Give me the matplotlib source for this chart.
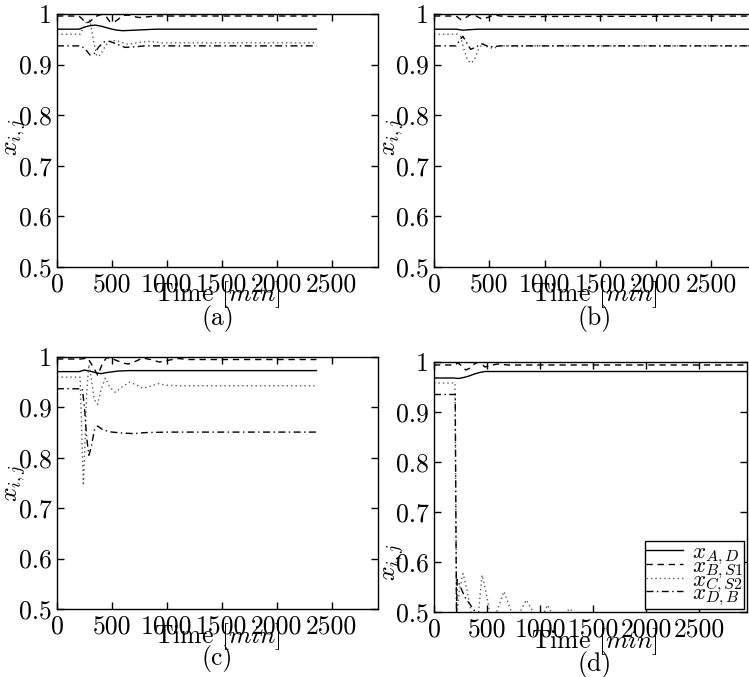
import numpy as np
import matplotlib
matplotlib.use("Agg")
import matplotlib.pyplot as plt

plt.rcParams["font.family"] = "serif"
plt.rcParams["font.serif"] = ["cmr10", "DejaVu Serif"]
plt.rcParams["mathtext.fontset"] = "cm"
plt.rcParams["axes.unicode_minus"] = False

# ---- data (time in min, molar fractions) ----
# panel (a)
t_a_AD = [0, 200, 250, 300, 350, 400, 450, 500, 550, 600, 700, 800, 900, 1000, 2360]
x_a_AD = [0.970, 0.970, 0.974, 0.977, 0.978, 0.976, 0.973, 0.970, 0.968, 0.967, 0.968, 0.969, 0.970, 0.970, 0.970]
t_a_BS1 = [0, 200, 230, 260, 300, 350, 400, 450, 480, 520, 560, 600, 650, 700, 750, 800, 900, 1000, 2360]
x_a_BS1 = [0.996, 0.996, 0.990, 0.982, 0.985, 0.995, 0.999, 0.994, 0.985, 0.984, 0.990, 0.997, 0.998, 0.995, 0.993, 0.994, 0.996, 0.996, 0.996]
t_a_CS2 = [0, 210, 240, 270, 300, 330, 360, 380, 410, 450, 500, 560, 650, 750, 850, 950, 1050, 2360]
x_a_CS2 = [0.960, 0.960, 0.972, 0.985, 0.988, 0.950, 0.918, 0.916, 0.925, 0.940, 0.948, 0.946, 0.940, 0.944, 0.946, 0.943, 0.943, 0.943]
t_a_DB = [0, 220, 260, 300, 340, 380, 430, 480, 550, 620, 700, 800, 2360]
x_a_DB = [0.937, 0.937, 0.930, 0.919, 0.922, 0.935, 0.945, 0.946, 0.940, 0.934, 0.935, 0.937, 0.937]

# panel (b)
t_b_AD = [0, 200, 260, 320, 400, 2950]
x_b_AD = [0.970, 0.970, 0.968, 0.969, 0.970, 0.970]
t_b_BS1 = [0, 200, 240, 280, 330, 380, 430, 480, 540, 600, 700, 2950]
x_b_BS1 = [0.996, 0.996, 0.989, 0.992, 0.999, 0.996, 0.990, 0.993, 0.998, 0.996, 0.995, 0.996]
t_b_CS2 = [0, 210, 240, 270, 300, 330, 360, 400, 440, 480, 530, 600, 700, 2950]
x_b_CS2 = [0.960, 0.960, 0.955, 0.930, 0.910, 0.903, 0.908, 0.930, 0.942, 0.935, 0.932, 0.937, 0.937, 0.937]
t_b_DB = [0, 200, 230, 260, 290, 330, 380, 430, 500, 600, 2950]
x_b_DB = [0.937, 0.937, 0.948, 0.956, 0.945, 0.930, 0.935, 0.941, 0.935, 0.937, 0.937]

# panel (c)
t_c_AD = [0, 200, 250, 300, 350, 400, 450, 550, 650, 2360]
x_c_AD = [0.971, 0.971, 0.974, 0.972, 0.969, 0.967, 0.969, 0.972, 0.973, 0.973]
t_c_BS1 = [0, 220, 280, 330, 370, 410, 450, 520, 600, 650, 700, 780, 850, 930, 1000, 1100, 1200, 2360]
x_c_BS1 = [0.996, 0.996, 0.998, 0.980, 0.964, 0.985, 0.999, 0.995, 0.988, 0.986, 0.990, 0.998, 0.995, 0.990, 0.993, 0.997, 0.995, 0.995]
t_c_CS2 = [0, 210, 225, 240, 255, 270, 290, 310, 340, 370, 400, 440, 480, 530, 600, 660, 720, 780, 850, 920, 1000, 1100, 2360]
x_c_CS2 = [0.960, 0.960, 0.850, 0.745, 0.830, 0.930, 0.985, 0.960, 0.915, 0.906, 0.935, 0.958, 0.940, 0.930, 0.942, 0.950, 0.945, 0.938, 0.942, 0.947, 0.944, 0.943, 0.943]
t_c_DB = [0, 230, 250, 270, 290, 310, 340, 370, 420, 500, 600, 700, 800, 1000, 2360]
x_c_DB = [0.937, 0.937, 0.900, 0.840, 0.805, 0.820, 0.855, 0.863, 0.855, 0.851, 0.849, 0.848, 0.850, 0.851, 0.851]

# panel (d)
t_d_AD = [0, 190, 230, 280, 330, 380, 430, 480, 550, 2950]
x_d_AD = [0.968, 0.968, 0.967, 0.969, 0.972, 0.976, 0.979, 0.981, 0.981, 0.981]
t_d_BS1 = [0, 190, 230, 270, 300, 340, 380, 420, 450, 480, 530, 600, 700, 2950]
x_d_BS1 = [0.994, 0.994, 0.998, 0.990, 0.984, 0.988, 0.996, 1.000, 0.996, 0.990, 0.993, 0.996, 0.994, 0.994]
t_d_CS2 = [0, 198, 206, 214, 240, 274, 310, 350, 385, 420, 453, 490, 525, 557, 590, 660, 730, 770,
           810, 870, 935, 1000, 1070, 1140, 1210, 1280, 1350, 1450, 2950]
x_d_CS2 = [0.958, 0.958, 0.700, 0.490, 0.545, 0.577, 0.545, 0.500, 0.470, 0.500, 0.574, 0.540, 0.500, 0.470, 0.500, 0.541, 0.500, 0.475,
           0.500, 0.524, 0.500, 0.480, 0.514, 0.485, 0.490, 0.507, 0.490, 0.480, 0.480]
t_d_DB = [0, 200, 206, 212, 218, 250, 290, 340, 390, 430, 2950]
x_d_DB = [0.935, 0.935, 0.700, 0.490, 0.565, 0.550, 0.530, 0.515, 0.500, 0.490, 0.480]

labels = [r"$x_{A,D}$", r"$x_{B,S1}$", r"$x_{C,S2}$", r"$x_{D,B}$"]
yticks = [0.5, 0.6, 0.7, 0.8, 0.9, 1.0]
ytick_labels = ["0.5", "0.6", "0.7", "0.8", "0.9", "1"]
xticks = [0, 500, 1000, 1500, 2000, 2500]

panels = {
    "a": [(t_a_AD, x_a_AD), (t_a_BS1, x_a_BS1), (t_a_CS2, x_a_CS2), (t_a_DB, x_a_DB)],
    "b": [(t_b_AD, x_b_AD), (t_b_BS1, x_b_BS1), (t_b_CS2, x_b_CS2), (t_b_DB, x_b_DB)],
    "c": [(t_c_AD, x_c_AD), (t_c_BS1, x_c_BS1), (t_c_CS2, x_c_CS2), (t_c_DB, x_c_DB)],
    "d": [(t_d_AD, x_d_AD), (t_d_BS1, x_d_BS1), (t_d_CS2, x_d_CS2), (t_d_DB, x_d_DB)],
}

W, H = 749, 677
# pixel boxes: left, top, right, bottom ; xmax ; ylabel centre ; text offsets below axis
layout = {
    "a": dict(box=(57, 14, 378, 267), xmax=2920, ylab=(16, 137), dy=(28, 52)),
    "b": dict(box=(434, 14, 758, 267), xmax=2920, ylab=(394, 137), dy=(28, 52)),
    "c": dict(box=(57, 357, 378, 609), xmax=2920, ylab=(16, 483), dy=(28, 50)),
    "d": dict(box=(434, 362, 747, 612), xmax=2950, ylab=(394, 562), dy=(30, 52)),
}

styles = [
    dict(linestyle="-", color="black", linewidth=1.0),
    dict(linestyle=(0, (4.5, 3.5)), color="black", linewidth=1.0),
    dict(linestyle=(0, (1, 2.2)), color="0.35", linewidth=1.0),
    dict(linestyle=(0, (5, 2.5, 1, 2.5)), color="black", linewidth=1.0),
]

fs = 18.5
fig = plt.figure(figsize=(W / 100, H / 100), dpi=100)

for key, series in panels.items():
    lay = layout[key]
    l, t, r, b = lay["box"]
    ax = fig.add_axes([l / W, 1 - b / H, (r - l) / W, (b - t) / H])
    for (tt, xx), st, lab in zip(series, styles, labels):
        ax.plot(tt, xx, label=lab, **st)
    ax.set_xlim(0, lay["xmax"])
    ax.set_ylim(0.5, 1.0)
    ax.set_xticks(xticks)
    ax.set_xticklabels([str(v) for v in xticks])
    ax.set_yticks(yticks)
    ax.set_yticklabels(ytick_labels)
    ax.tick_params(direction="in", top=True, right=True, length=5, width=1,
                   labelsize=fs, pad=4)
    for sp in ax.spines.values():
        sp.set_linewidth(1.0)

    # captions sit centred under the 321 px wide plot area
    cx = l + (378 - 57) / 2
    fig.text(cx / W, 1 - (b + lay["dy"][0]) / H, r"Time $[min]$", ha="center", va="center", fontsize=fs)
    fig.text(cx / W, 1 - (b + lay["dy"][1]) / H, f"({key})", ha="center", va="center", fontsize=fs)
    fig.text(lay["ylab"][0] / W, 1 - lay["ylab"][1] / H, r"$x_{i,j}$", rotation=90,
             ha="center", va="center", fontsize=fs)

    if key == "d":
        leg = ax.legend(loc="lower right", fontsize=16.5, labelspacing=-0.5, handlelength=1.6,
                        handletextpad=0.4, borderpad=0.05, borderaxespad=0.12,
                        fancybox=False, framealpha=1)
        leg.get_frame().set_edgecolor("black")
        leg.get_frame().set_linewidth(1.0)

fig.savefig("out.png", dpi=100)
